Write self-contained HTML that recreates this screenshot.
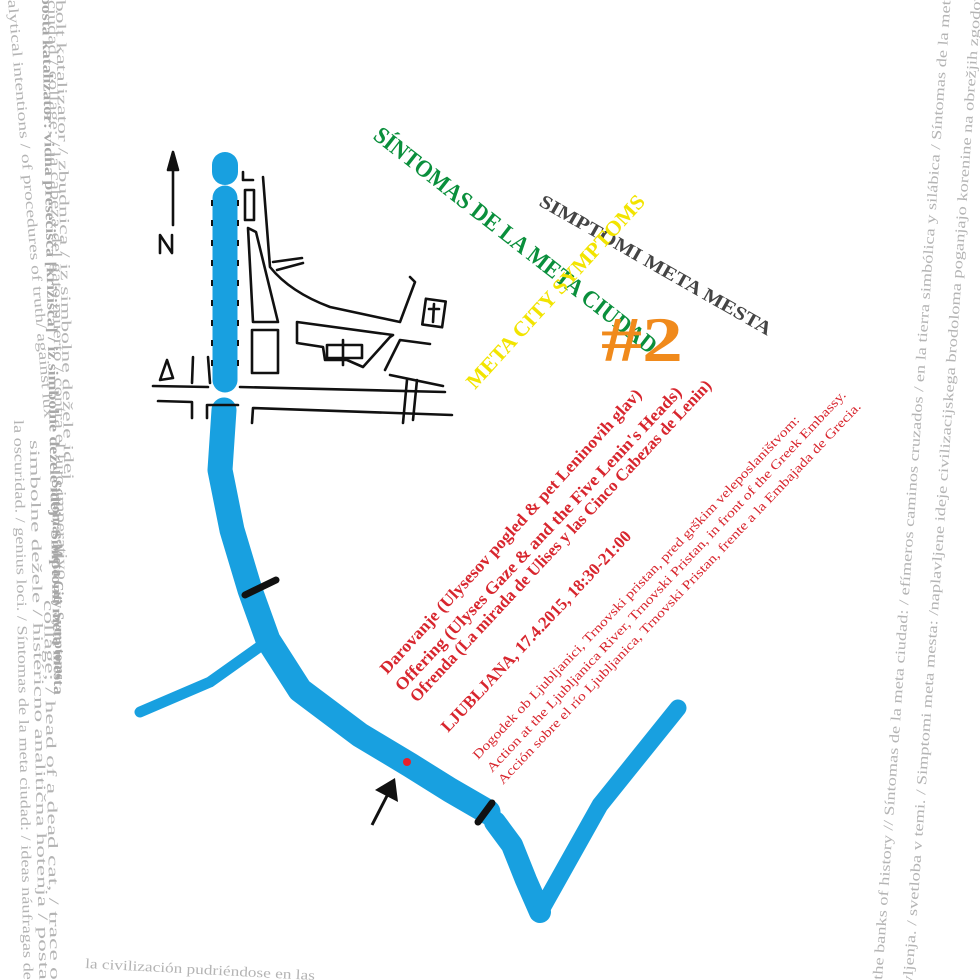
<!DOCTYPE html>
<html><head><meta charset="utf-8"><style>
html,body{margin:0;padding:0;background:#fff;}
svg{display:block;}
.g{font-family:"Liberation Serif",serif;font-size:14px;fill:#b4b4b4;}
.gb{font-family:"Liberation Serif",serif;font-size:14px;fill:#a8a8a8;font-weight:bold;}
.r{font-family:"Liberation Serif",serif;font-weight:bold;fill:#d8262e;}
.rs{font-family:"Liberation Serif",serif;fill:#d8262e;font-size:13px;}
.t{font-family:"Liberation Serif",serif;font-weight:bold;}
</style></head><body>
<svg width="980" height="980" viewBox="0 0 980 980" xmlns="http://www.w3.org/2000/svg">
<rect width="980" height="980" fill="#fff"/>

<!-- left side text columns -->
<text class="g" font-size="16" transform="translate(8,0) rotate(85)" textLength="420" lengthAdjust="spacingAndGlyphs">alytical intentions / of procedures of truth/ against lux</text>
<text class="gb" transform="translate(42,-5) rotate(89)" textLength="700" lengthAdjust="spacingAndGlyphs">posta katalizator: vidna presečišča [križišča] / iz simbolne dežele idej / Simptomi meta mesta</text>
<text class="g" transform="translate(48,0) rotate(89)" textLength="580" lengthAdjust="spacingAndGlyphs">ciudad / collage; / la cabeza del gato muerto / contra el lujo imperativo</text>
<text class="g" transform="translate(56,0) rotate(89)" textLength="480" lengthAdjust="spacingAndGlyphs">bolt katalizator / zbudnica / iz simbolne dežele idej</text>
<text class="gb" transform="translate(52,480) rotate(89)" textLength="200" lengthAdjust="spacingAndGlyphs">Síntomas Meta City Symptoms</text>
<text class="g" transform="translate(14,420) rotate(89)" textLength="560" lengthAdjust="spacingAndGlyphs">la oscuridad. / genius loci. / Síntomas de la meta ciudad: / ideas náufragas de</text>
<text class="g" transform="translate(30,440) rotate(89)" textLength="540" lengthAdjust="spacingAndGlyphs">simbolne dežele / histéricno analitična hotenja / posta</text>
<text class="g" transform="translate(44,600) rotate(89)" textLength="380" lengthAdjust="spacingAndGlyphs">collage; / head of a dead cat, / trace o</text>
<text class="g" transform="translate(85,968) rotate(3)" textLength="230" lengthAdjust="spacingAndGlyphs">la civilización pudriéndose en las</text>

<!-- right side text columns -->
<text class="g" transform="translate(882,980) rotate(-86)" textLength="990" lengthAdjust="spacingAndGlyphs">the banks of history // Síntomas de la meta ciudad: / efímeros caminos cruzados / en la tierra simbólica y silábica / Síntomas de la meta</text>
<text class="g" transform="translate(912,985) rotate(-86)" textLength="1000" lengthAdjust="spacingAndGlyphs">vljenja. / svetloba v temi. / Simptomi meta mesta: /naplavljene ideje civilizacijskega brodoloma poganjajo korenine na obrežjih zgodovi</text>

<!-- river -->
<g stroke="#18a0e0" fill="none" stroke-linecap="round" stroke-linejoin="round">
<path d="M225 165 L225 172" stroke-width="26"/>
<path d="M225 198 L225 380" stroke-width="25"/>
<path d="M224 410 L220 470 L232 530 L250 590 L268 640 L300 690 L360 735 L410 765 L450 790 L488 812" stroke-width="25"/>
<path d="M495 822 L512 845 L526 880 L540 912" stroke-width="22"/>
<path d="M540 912 L600 805 L678 708" stroke-width="17"/>
<path d="M140 712 L210 682 L262 645" stroke-width="11"/>
</g>
<g stroke="#111" stroke-width="2" stroke-dasharray="6 14" fill="none">
<path d="M212 200 L212 380"/><path d="M238 200 L238 380"/>
</g>
<g stroke="#111" stroke-linecap="round" fill="none">
<path d="M245 595 L276 580" stroke-width="7"/>
<path d="M478 822 L492 803" stroke-width="7"/>
</g>
<circle cx="407" cy="762" r="4" fill="#e8202a"/>
<path d="M372 825 L390 790" stroke="#111" stroke-width="3" fill="none"/>
<path d="M375 790 L395 778 L398 802 Z" fill="#111"/>

<!-- map sketch -->
<g stroke="#111" stroke-width="2.6" fill="none" stroke-linecap="round" stroke-linejoin="round">
<path d="M173 225 L173 158"/>
<path d="M168 170 L173 152 L178 170 Z" fill="#111"/>
<path d="M160 253 L160 235 L172 253 L172 235"/>
<path d="M153 386 L208 387"/>
<path d="M240 387 L445 392"/>
<path d="M158 401 L192 402 L192 418"/>
<path d="M207 418 L207 405 L238 405"/>
<path d="M252 423 L253 408 L452 415"/>
<path d="M193 357 L192 383"/>
<path d="M208 357 L210 383"/>
<path d="M160 380 L167 360 L173 378 Z"/>
<rect x="245" y="190" width="9" height="30"/>
<rect x="252" y="330" width="26" height="43"/>
<path d="M248 228 L253 322 L278 322 L256 232 Z"/>
<path d="M243 172 L243 180 L253 180"/>
<path d="M263 177 L270 267 Q290 292 330 307 L400 322 L415 282 L410 277"/>
<path d="M277 270 L303 263"/>
<path d="M273 262 L302 258"/>
<path d="M297 322 L297 343 L323 347 L325 360 L347 360 L363 367 L390 337 L393 335 L297 322"/>
<path d="M327 345 L362 345 L362 358 L327 358 Z"/>
<path d="M343 340 L343 365"/>
<rect x="424" y="300" width="20" height="26" transform="rotate(8 434 313)"/>
<path d="M434 304 L433 322 M429 309 L439 309"/>
<path d="M385 370 L400 340 L430 344"/>
<path d="M390 375 L443 386"/>
<path d="M407 380 L403 423"/>
<path d="M417 380 L413 420"/>
</g>

<!-- titles -->
<text class="t" font-size="24" fill="#0a8f3c" transform="translate(372,138) rotate(38)" textLength="352" lengthAdjust="spacingAndGlyphs">SÍNTOMAS DE LA META CIUDAD</text>
<text class="t" font-size="19" fill="#444" transform="translate(538,205) rotate(29.7)" textLength="264" lengthAdjust="spacingAndGlyphs">SIMPTOMI META MESTA</text>
<text class="t" font-size="21" fill="#f2e400" transform="translate(475,390) rotate(-47.6)" textLength="254" lengthAdjust="spacingAndGlyphs">META CITY SYMPTOMS</text>
<text class="t" font-size="64" fill="#f08a1c" x="601" y="361" textLength="82" lengthAdjust="spacingAndGlyphs">#2</text>

<!-- red info text -->
<text class="r" font-size="17" transform="translate(387,675) rotate(-47.6)" textLength="379" lengthAdjust="spacingAndGlyphs">Darovanje (Ulysesov pogled &amp; pet Leninovih glav)</text>
<text class="r" font-size="17" transform="translate(402,692) rotate(-46.8)" textLength="410" lengthAdjust="spacingAndGlyphs">Offering (Ulyses Gaze &amp; and the Five Lenin's Heads)</text>
<text class="r" font-size="17" transform="translate(417,703) rotate(-47)" textLength="433" lengthAdjust="spacingAndGlyphs">Ofrenda (La mirada de Ulises y las Cinco Cabezas de Lenin)</text>
<text class="r" font-size="17" transform="translate(448,733) rotate(-46.8)" textLength="269" lengthAdjust="spacingAndGlyphs">LJUBLJANA, 17.4.2015, 18:30-21:00</text>
<text class="rs" transform="translate(478,760) rotate(-46.5)" textLength="468" lengthAdjust="spacingAndGlyphs">Dogodek ob Ljubljanici, Trnovski pristan, pred grškim veleposlaništvom:</text>
<text class="rs" transform="translate(492,773) rotate(-46.8)" textLength="518" lengthAdjust="spacingAndGlyphs">Action at the Ljubljanica River, Trnovski Pristan, in front of the Greek Embassy.</text>
<text class="rs" transform="translate(503,785) rotate(-46.5)" textLength="521" lengthAdjust="spacingAndGlyphs">Acción sobre el río Ljubljanica, Trnovski Pristan, frente a la Embajada de Grecia.</text>
</svg>
</body></html>
